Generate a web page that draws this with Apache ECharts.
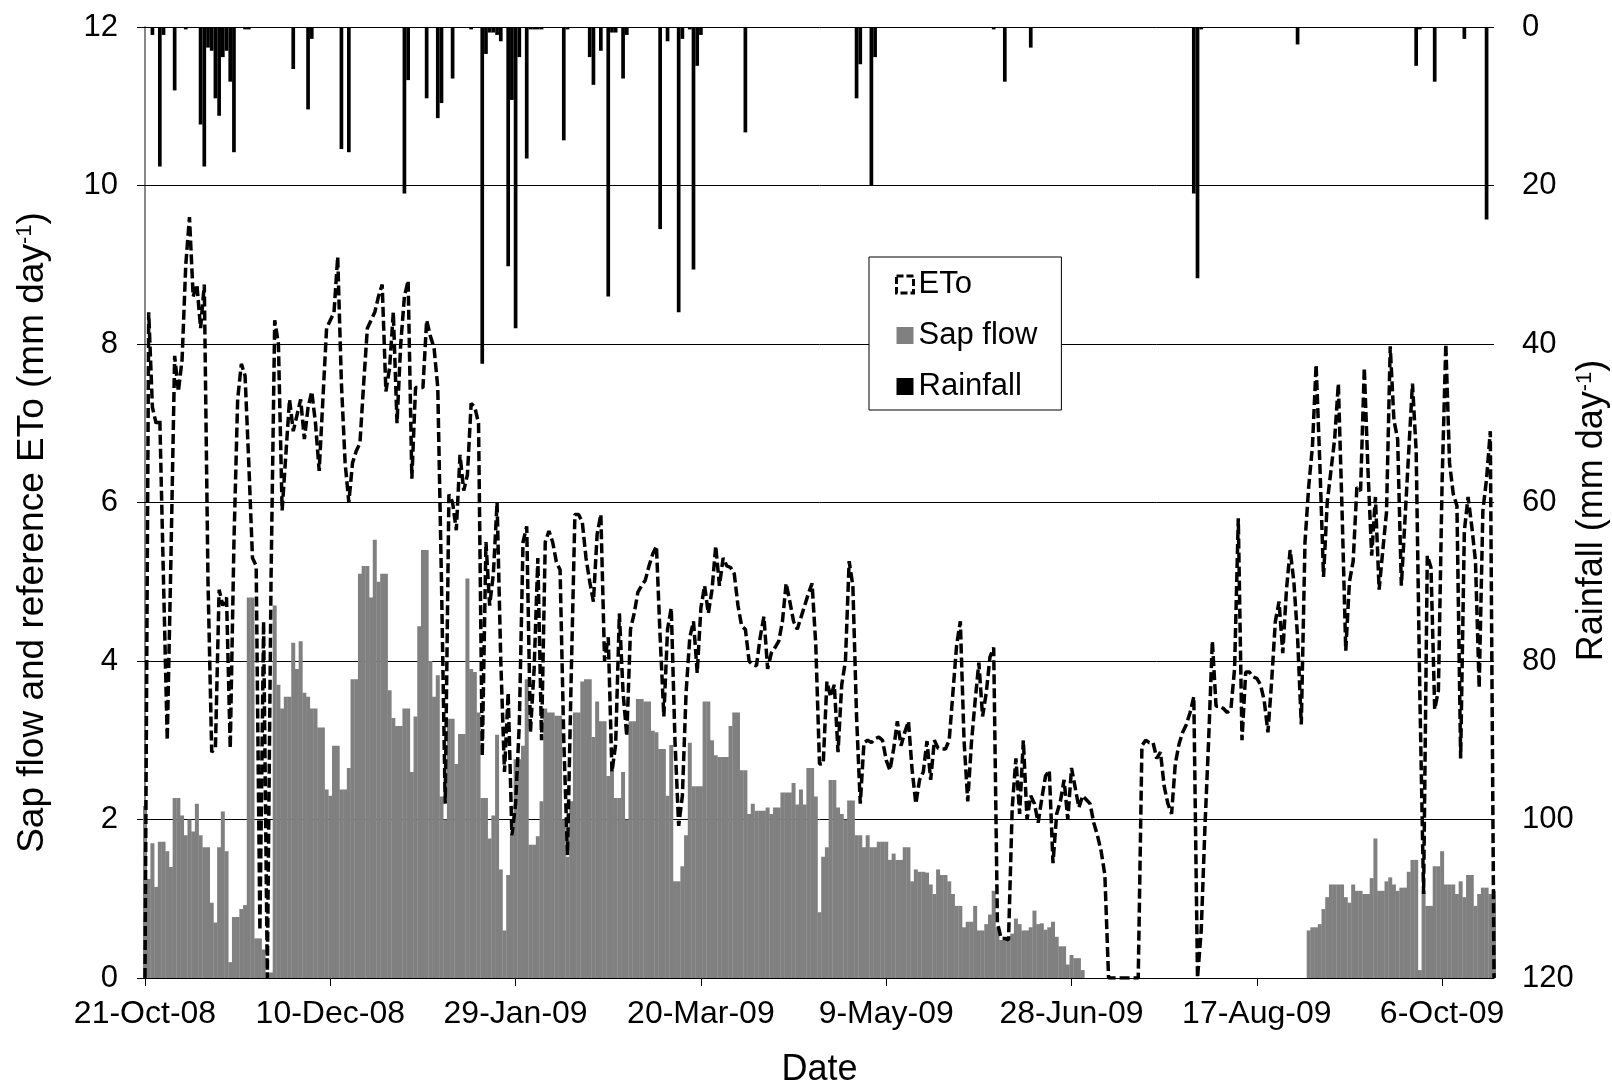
<!DOCTYPE html>
<html>
<head>
<meta charset="utf-8">
<script src="https://cdn.jsdelivr.net/npm/echarts@6/dist/echarts.min.js"></script>
<style>
    * { margin: 0; padding: 0; }
    body { background: #fff; }
    #main { width: 1612px; height: 1091px; }
</style>
</head>
<body>
<div id="main"></div>
<script>
    // day 0 = 21-Oct-08, one value per day
    var startDate = [2008, 9, 21];
    var months = ['Jan', 'Feb', 'Mar', 'Apr', 'May', 'Jun', 'Jul', 'Aug', 'Sep', 'Oct', 'Nov', 'Dec'];

    // reference ETo (mm/day)
    var eto = [
        0, 8.4, 7.2, 7.0, 7.05, 5.0, 3.0, 5.3, 7.85, 7.4,
        7.8, 9.0, 9.6, 8.6, 8.75, 8.2, 8.75, 5.0, 2.85, 2.9,
        4.9, 4.7, 4.8, 2.9, 5.5, 7.3, 7.75, 7.6, 6.5, 5.3,
        5.2, 0.6, 4.5, 0.0, 5.0, 8.3, 8.0, 5.9, 6.6, 7.3,
        6.9, 7.1, 7.3, 6.8, 7.2, 7.4, 7.0, 6.4, 7.3, 8.2,
        8.3, 8.4, 9.1, 7.5, 6.5, 6.0, 6.5, 6.65, 6.75, 7.5,
        8.2, 8.3, 8.4, 8.6, 8.75, 7.4, 7.7, 8.4, 7.0, 8.0,
        8.6, 8.8, 6.3, 7.45, 7.45, 7.45, 8.3, 8.1, 7.95, 7.45,
        5.0, 2.2, 6.1, 6.0, 5.65, 6.6, 6.15, 6.35, 7.25, 7.2,
        7.0, 2.8, 5.5, 4.7, 5.1, 6.0, 4.0, 2.6, 3.6, 1.8,
        2.2, 3.2, 5.5, 5.7, 3.1, 3.9, 5.3, 3.0, 5.5, 5.64,
        5.5, 5.25, 5.15, 3.0, 1.55, 3.8, 5.85, 5.85, 5.75, 5.3,
        5.0, 4.75, 5.6, 5.85, 4.0, 4.3, 2.6, 2.95, 4.6, 3.6,
        3.05, 4.4, 4.6, 4.87, 4.95, 5.02, 5.2, 5.35, 5.45, 4.3,
        3.3, 4.4, 4.67, 3.0, 1.92, 2.3, 3.6, 4.3, 4.5, 3.85,
        4.67, 4.95, 4.6, 4.9, 5.45, 4.95, 5.3, 5.2, 5.18, 5.1,
        4.7, 4.44, 4.4, 4.0, 3.95, 3.94, 4.3, 4.56, 3.9, 4.1,
        4.17, 4.25, 4.5, 4.98, 4.75, 4.5, 4.4, 4.55, 4.7, 4.85,
        4.98, 4.2, 2.7, 2.7, 3.74, 3.55, 3.7, 2.85, 3.7, 4.0,
        5.26, 4.95, 3.3, 2.2, 2.97, 3.0, 2.97, 3.02, 3.04, 3.0,
        2.75, 2.62, 2.89, 3.24, 2.93, 3.1, 3.24, 2.62, 2.2, 2.5,
        2.6, 2.99, 2.5, 3.0, 2.9, 2.89, 2.89, 3.0, 3.6, 4.2,
        4.5, 3.0, 2.23, 2.97, 3.5, 3.98, 3.3, 3.6, 4.05, 4.17,
        0.7, 0.5, 0.5, 0.48, 2.15, 2.77, 2.07, 3.0, 2.0, 2.3,
        2.2, 1.96, 2.27, 2.55, 2.62, 1.45, 2.07, 2.23, 2.5, 2.0,
        2.65, 2.4, 2.15, 2.3, 2.25, 2.2, 1.96, 1.8, 1.6, 1.3,
        0, 0, 0, 0, 0, 0, 0, 0, 0, 2.93,
        3.0, 2.97, 2.97, 2.77, 2.85, 2.42, 2.2, 2.07, 2.7, 2.95,
        3.1, 3.2, 3.35, 3.55, 0, 0.6, 1.9, 3.0, 4.25, 3.43,
        3.43, 3.4, 3.35, 3.39, 3.9, 5.8, 3.0, 3.86, 3.86, 3.8,
        3.78, 3.7, 3.5, 3.1, 3.74, 4.5, 4.75, 4.1, 4.9, 5.4,
        5.0, 4.3, 3.2, 5.5, 6.2, 6.7, 7.74, 6.5, 5.06, 6.0,
        6.4, 6.8, 7.5, 5.9, 4.13, 5.0, 5.26, 6.19, 6.15, 7.7,
        6.4, 5.33, 6.07, 4.9, 5.4, 5.88, 7.97, 7.04, 6.8, 4.95,
        5.8, 6.65, 7.5, 6.65, 3.55, 1.06, 5.33, 5.18, 3.39, 3.63,
        6.27, 8.0, 6.5, 6.11, 5.96, 2.77, 5.64, 6.07, 5.7, 5.26,
        3.66, 5.9, 6.3, 6.9, 0
    ];

    // sap flow (mm/day)
    var sapFlow = [
        2.17, 1.25, 1.7, 1.15, 1.72, 1.72, 1.6, 1.4, 2.27, 2.27,
        2.05, 1.8, 2.0, 1.85, 2.2, 1.8, 1.65, 1.65, 0.95, 0.7,
        1.65, 2.1, 1.6, 0.2, 0.77, 0.77, 0.87, 0.92, 4.8, 4.8,
        0.5, 0.5, 0.36, 0, 0.07, 4.7, 3.7, 3.4, 3.55, 3.55,
        4.23, 3.9, 4.25, 3.6, 3.55, 3.4, 3.4, 3.16, 3.16, 2.38,
        2.3, 2.93, 2.93, 2.38, 2.38, 2.65, 3.77, 3.77, 5.1, 5.2,
        5.2, 4.8, 5.53, 5.0, 5.1, 5.1, 3.63, 3.28, 3.18, 3.18,
        3.4, 3.4, 2.6, 3.3, 4.44, 5.4, 5.4, 4.0, 3.55, 3.82,
        2.29, 2.0, 3.27, 3.27, 2.7, 3.08, 3.08, 5.04, 3.9, 3.86,
        3.35, 2.27, 2.27, 1.76, 2.05, 3.07, 1.37, 0.6, 1.3, 1.8,
        2.76, 2.76, 2.93, 3.77, 1.68, 1.68, 1.79, 2.23, 3.4, 3.35,
        3.35, 3.31, 3.31, 2.0, 1.53, 2.23, 3.35, 3.35, 3.74, 3.77,
        3.77, 3.04, 3.49, 3.24, 3.24, 2.55, 2.62, 2.27, 2.27, 2.6,
        2.0, 3.24, 3.24, 3.52, 3.52, 3.49, 3.49, 3.12, 3.1, 2.89,
        2.89, 2.3, 2.94, 1.22, 1.22, 1.41, 1.8, 2.97, 2.42, 2.42,
        2.42, 3.49, 3.49, 3.0, 2.81, 2.79, 2.79, 2.79, 3.18, 3.35,
        3.35, 2.62, 2.62, 2.07, 2.2, 2.11, 2.11, 2.11, 2.15, 2.07,
        2.15, 2.15, 2.34, 2.34, 2.34, 2.46, 2.19, 2.38, 2.19, 2.65,
        2.65, 2.29, 0.83, 1.53, 1.65, 2.5, 2.5, 2.15, 2.07, 2.0,
        2.24, 2.24, 1.8, 1.8, 1.65, 1.8, 1.65, 1.65, 1.72, 1.72,
        1.72, 1.49, 1.57, 1.49, 1.49, 1.65, 1.65, 1.22, 1.37, 1.34,
        1.34, 1.33, 1.18, 1.06, 1.37, 1.3, 1.3, 1.22, 1.06, 0.91,
        0.91, 0.64, 0.71, 0.71, 0.91, 0.6, 0.6, 0.68, 0.8, 1.1,
        0.64, 0.48, 0.48, 0.52, 0.56, 0.75, 0.68, 0.6, 0.6, 0.64,
        0.85, 0.68, 0.69, 0.61, 0.64, 0.71, 0.52, 0.4, 0.4, 0.17,
        0.29, 0.25, 0.25, 0.1, 0, 0, 0, 0, 0, 0,
        0, 0, 0, 0, 0, 0, 0, 0, 0, 0,
        0, 0, 0, 0, 0, 0, 0, 0, 0, 0,
        0, 0, 0, 0, 0, 0, 0, 0, 0, 0,
        0, 0, 0, 0, 0, 0, 0, 0, 0, 0,
        0, 0, 0, 0, 0, 0, 0, 0, 0, 0,
        0, 0, 0, 0, 0.6, 0.64, 0.64, 0.68, 0.87, 1.02,
        1.18, 1.18, 1.18, 1.18, 1.02, 0.95, 1.18, 1.1, 1.1, 1.06,
        1.06, 1.26, 1.76, 1.1, 1.1, 1.22, 1.27, 1.18, 1.1, 1.14,
        1.14, 1.34, 1.49, 1.49, 0.1, 1.1, 0.91, 0.91, 1.41, 1.41,
        1.6, 1.18, 1.18, 1.18, 1.06, 1.22, 1.02, 1.3, 1.3, 0.91,
        1.06, 1.14, 1.14, 1.06, 1.1
    ];

    // rainfall days with rain: [day, mm]
    var rainfall = [
        [2, 1.0], [4, 17.6], [5, 1.0], [8, 8.0], [11, 0.3], [15, 12.3], [16, 17.6], [17, 2.6],
        [18, 3.0], [19, 9.0], [20, 11.2], [21, 3.8], [22, 3.0], [23, 6.9], [24, 15.8], [27, 0.3],
        [28, 0.3], [40, 5.3], [44, 10.4], [45, 1.5], [53, 15.4], [55, 15.8], [70, 21], [71, 6.7],
        [76, 9.0], [79, 11.5], [80, 9.6], [83, 6.5], [88, 0.3], [91, 42.5], [92, 3.4], [93, 0.7],
        [94, 0.7], [95, 1.0], [96, 1.8], [98, 30.2], [99, 9.2], [100, 38], [101, 3.8], [103, 16.6],
        [104, 0.3], [105, 0.3], [106, 0.3], [107, 0.3], [113, 14.3], [114, 0.3], [120, 3.8], [121, 7.3],
        [123, 3.0], [125, 34], [126, 0.7], [127, 0.7], [129, 6.5], [130, 1.0], [139, 25.5], [141, 1.8],
        [144, 36], [145, 1.5], [147, 0.3], [148, 30.6], [149, 4.9], [150, 1.0], [162, 13.3], [192, 9.0],
        [193, 4.7], [196, 20], [197, 3.8], [229, 0.3], [232, 6.9], [239, 2.6], [283, 21], [284, 31.7],
        [285, 0.3], [311, 2.2], [343, 4.9], [344, 0.3], [348, 6.9], [356, 1.5], [362, 24.3]
    ];

    var font = 'Liberation Sans, Arial, sans-serif';

    function dayLabel(v) {
        var d = new Date(startDate[0], startDate[1], startDate[2] + Math.round(v));
        var yy = String(d.getFullYear() % 100);
        if (yy.length < 2) yy = '0' + yy;
        return d.getDate() + '-' + months[d.getMonth()] + '-' + yy;
    }

    var etoData = eto.map(function (v, i) { return [i, v]; });
    var sapData = sapFlow.map(function (v, i) { return [i, v]; });

    var myChart = echarts.init(document.getElementById('main'));

    var supStyle = {fontSize: 22, fontFamily: font, color: '#000', verticalAlign: 'top', padding: [0, 0, 14, 0]};

    var option = {
        backgroundColor: '#fff',
        animation: false,
        textStyle: {fontFamily: font, color: '#000'},
        grid: {left: 145, right: 118, top: 27, bottom: 113, containLabel: false, outerBoundsMode: 'none'},
        legend: {
            orient: 'vertical',
            left: 869,
            top: 257,
            padding: [12, 24, 8, 26],
            itemWidth: 17,
            itemHeight: 17,
            itemGap: 20,
            borderColor: '#000',
            borderWidth: 1,
            backgroundColor: '#fff',
            textStyle: {fontSize: 31, fontFamily: font, color: '#000'},
            data: [
                {name: 'ETo', icon: 'rect', itemStyle: {color: '#fff', borderColor: '#000', borderWidth: 3, borderType: [7, 3]}},
                {name: 'Sap flow', icon: 'rect'},
                {name: 'Rainfall', icon: 'rect'}
            ]
        },
        xAxis: [
            {
                type: 'value',
                min: 0,
                max: 364,
                interval: 50,
                name: 'Date',
                nameLocation: 'middle',
                nameGap: 74,
                nameMoveOverlap: false,
                nameTextStyle: {fontSize: 36, fontFamily: font, color: '#000'},
                axisLine: {lineStyle: {color: '#000', width: 1}},
                axisTick: {show: true, length: 8, lineStyle: {color: '#000'}},
                axisLabel: {fontSize: 32, fontFamily: font, color: '#000', margin: 20, showMaxLabel: false, formatter: dayLabel},
                splitLine: {show: false}
            },
            {
                type: 'value',
                min: 0,
                max: 364,
                show: false
            }
        ],
        yAxis: [
            {
                type: 'value',
                min: 0,
                max: 12,
                interval: 2,
                name: 'Sap flow and reference ETo (mm day{sup|-1})',
                nameLocation: 'middle',
                nameRotate: 90,
                nameGap: 94,
                nameMoveOverlap: false,
                nameTextStyle: {
                    fontSize: 37, fontFamily: font, color: '#000', padding: [0, 60, 0, 0],
                    rich: {sup: supStyle}
                },
                axisLine: {show: true, lineStyle: {color: '#808080', width: 1.5}},
                axisTick: {show: true, length: 8, lineStyle: {color: '#000'}},
                axisLabel: {fontSize: 31, fontFamily: font, color: '#000', margin: 27},
                splitLine: {show: true, lineStyle: {color: '#000', width: 1}}
            },
            {
                type: 'value',
                min: 0,
                max: 120,
                interval: 20,
                inverse: true,
                position: 'right',
                name: 'Rainfall (mm day{sup|-1})',
                nameLocation: 'middle',
                nameRotate: 90,
                nameGap: 80,
                nameMoveOverlap: false,
                nameTextStyle: {
                    fontSize: 36, fontFamily: font, color: '#000', padding: [0, 16, 0, 0],
                    rich: {sup: supStyle}
                },
                axisLine: {show: true, lineStyle: {color: '#808080', width: 1.5}},
                axisTick: {show: true, length: 8, lineStyle: {color: '#000'}},
                axisLabel: {fontSize: 31, fontFamily: font, color: '#000', margin: 28},
                splitLine: {show: false}
            }
        ],
        series: [
            {
                name: 'Sap flow',
                type: 'bar',
                xAxisIndex: 0,
                yAxisIndex: 0,
                barWidth: 4,
                itemStyle: {color: '#808080'},
                data: sapData,
                z: 2
            },
            {
                name: 'Rainfall',
                type: 'bar',
                xAxisIndex: 1,
                yAxisIndex: 1,
                barWidth: 3.7,
                itemStyle: {color: '#000'},
                data: rainfall,
                z: 2
            },
            {
                name: 'ETo',
                type: 'line',
                xAxisIndex: 0,
                yAxisIndex: 0,
                symbol: 'none',
                lineStyle: {color: '#000', width: 3.5, type: [10, 4]},
                itemStyle: {color: '#000'},
                data: etoData,
                z: 4
            }
        ]
    };

    myChart.setOption(option);
</script>
</body>
</html>
